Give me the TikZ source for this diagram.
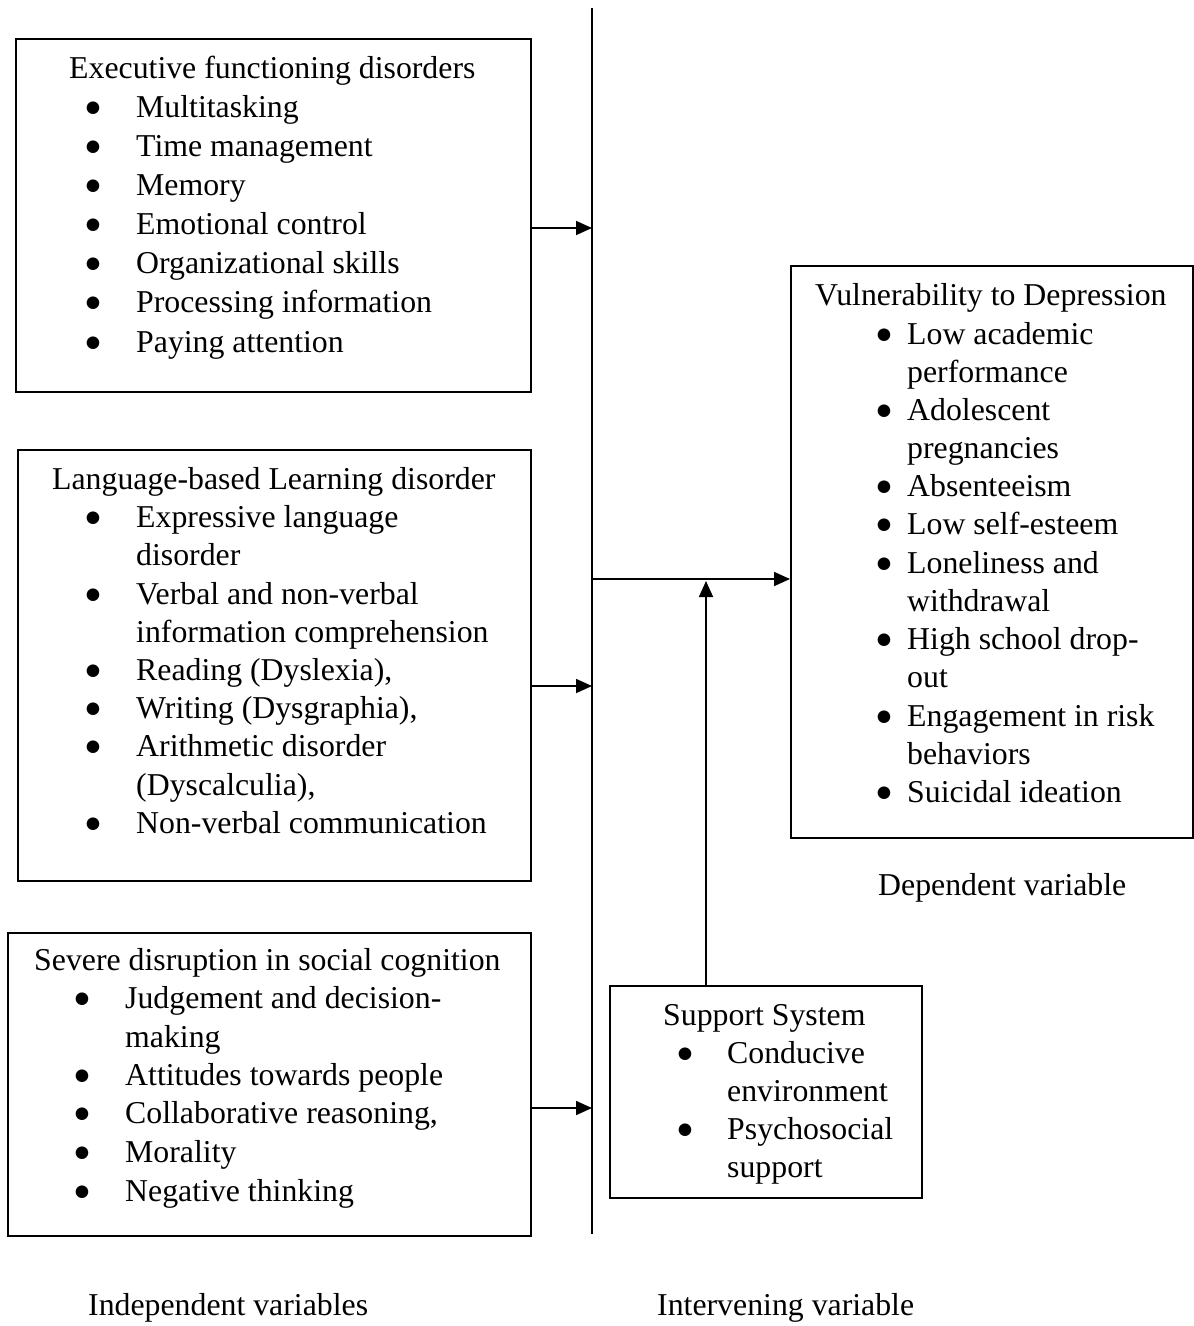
\documentclass[tikz,border=0pt]{standalone}
\usepackage{fontspec}
\setmainfont{Liberation Serif}
\newfontfamily\bulfont{DejaVu Sans}
\usetikzlibrary{arrows.meta}
\newcounter{lnc}
\newcommand\ttl[3]{\stepcounter{lnc}\node[txt,anchor=base west] (t\thelnc) at (#1,#2) {#3};}
\newcommand\bul[2]{\stepcounter{lnc}\node[bl,anchor=base] (t\thelnc) at (#1,#2-4.6) {●};}
\begin{document}
\begin{tikzpicture}[x=1pt,y=-1pt,
  txt/.style={inner sep=0pt,font=\fontsize{31.8}{38}\selectfont},
  bl/.style={inner sep=0pt,font=\bulfont\fontsize{16.5}{18}\selectfont},
  box/.style={draw,line width=2.3pt,inner sep=0pt,anchor=north west},
  conn/.style={line width=1.6pt},
  arr/.style={line width=1.7pt,-{Triangle[length=16pt,width=14pt]}}]
\useasboundingbox (0,0) rectangle (1194,1326);
% boxes
\node[box,minimum width=515pt,minimum height=353pt] (b1) at (15,38) {};
\node[box,minimum width=513pt,minimum height=431pt] (b2) at (17,449) {};
\node[box,minimum width=523pt,minimum height=303pt] (b3) at (7,932) {};
\node[box,minimum width=402pt,minimum height=572pt] (b4) at (790,265) {};
\node[box,minimum width=312pt,minimum height=212pt] (b5) at (609,985) {};
% vertical line and arrows
\coordinate (vt) at (592,8);
\coordinate (vb) at (592,1234);
\draw[conn] (vt) -- (vb);
\coordinate (a1) at (592,228);
\coordinate (a2) at (592,686);
\coordinate (a3) at (592,1108);
\coordinate (a4) at (592,579);
\coordinate (up) at (706,985);
\coordinate (uptip) at (706,581);
\draw[arr] (a1 -| b1.east) -- (a1);
\draw[arr] (a2 -| b2.east) -- (a2);
\draw[arr] (a3 -| b3.east) -- (a3);
\draw[arr] (a4) -- (a4 -| b4.west);
\draw[arr] (up) -- (uptip);
% box 1
\ttl{69}{78}{Executive functioning disorders}
\bul{93}{117}\ttl{136}{117}{Multitasking}
\bul{93}{156}\ttl{136}{156}{Time management}
\bul{93}{195}\ttl{136}{195}{Memory}
\bul{93}{234}\ttl{136}{234}{Emotional control}
\bul{93}{273}\ttl{136}{273}{Organizational skills}
\bul{93}{312}\ttl{136}{312}{Processing information}
\bul{93}{352}\ttl{136}{352}{Paying attention}
% box 2
\ttl{52}{489}{Language-based Learning disorder}
\bul{93}{527}\ttl{136}{527}{Expressive language}
\ttl{136}{565}{disorder}
\bul{93}{604}\ttl{136}{604}{Verbal and non-verbal}
\ttl{136}{642}{information comprehension}
\bul{93}{680}\ttl{136}{680}{Reading (Dyslexia),}
\bul{93}{718}\ttl{136}{718}{Writing (Dysgraphia),}
\bul{93}{756}\ttl{136}{756}{Arithmetic disorder}
\ttl{136}{795}{(Dyscalculia),}
\bul{93}{833}\ttl{136}{833}{Non-verbal communication}
% box 3
\ttl{34}{970}{Severe disruption in social cognition}
\bul{82}{1008}\ttl{125}{1008}{Judgement and decision-}
\ttl{125}{1047}{making}
\bul{82}{1085}\ttl{125}{1085}{Attitudes towards people}
\bul{82}{1123}\ttl{125}{1123}{Collaborative reasoning,}
\bul{82}{1162}\ttl{125}{1162}{Morality}
\bul{82}{1201}\ttl{125}{1201}{Negative thinking}
% box 4
\ttl{815}{305}{Vulnerability to Depression}
\bul{884}{344}\ttl{907}{344}{Low academic}
\ttl{907}{382}{performance}
\bul{884}{420}\ttl{907}{420}{Adolescent}
\ttl{907}{458}{pregnancies}
\bul{884}{496}\ttl{907}{496}{Absenteeism}
\bul{884}{534}\ttl{907}{534}{Low self-esteem}
\bul{884}{573}\ttl{907}{573}{Loneliness and}
\ttl{907}{611}{withdrawal}
\bul{884}{649}\ttl{907}{649}{High school drop-}
\ttl{907}{687}{out}
\bul{884}{726}\ttl{907}{726}{Engagement in risk}
\ttl{907}{764}{behaviors}
\bul{884}{802}\ttl{907}{802}{Suicidal ideation}
% support box
\ttl{663}{1025}{Support System}
\bul{685}{1063}\ttl{727}{1063}{Conducive}
\ttl{727}{1101}{environment}
\bul{685}{1139}\ttl{727}{1139}{Psychosocial}
\ttl{727}{1177}{support}
% captions
\ttl{878}{895}{Dependent variable}
\ttl{88}{1315}{Independent variables}
\ttl{657}{1315}{Intervening variable}
\end{tikzpicture}
\end{document}
